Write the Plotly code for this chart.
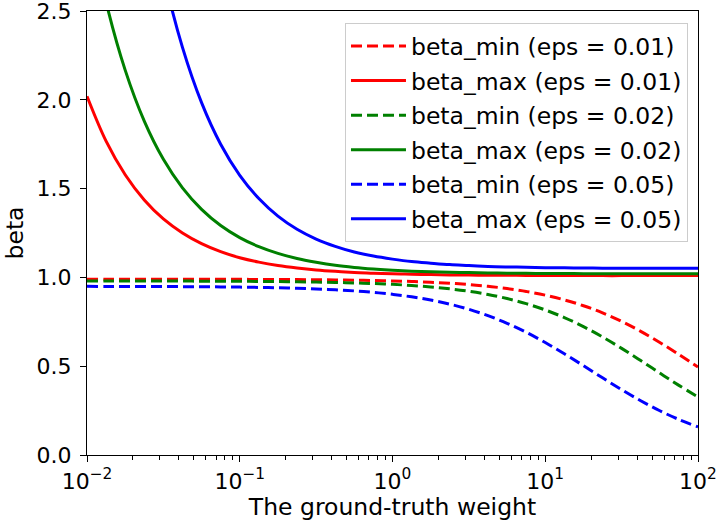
import plotly.graph_objects as go

# ground-truth weight sample positions (log-spaced)
w = [0.01, 0.013335, 0.017783, 0.023714, 0.031623, 0.04217, 0.056234, 0.074989,
     0.1, 0.13335, 0.17783, 0.23714, 0.31623, 0.4217, 0.56234, 0.74989,
     1.0, 1.3335, 1.7783, 2.3714, 3.1623, 4.217, 5.6234, 7.4989,
     10.0, 13.335, 17.783, 23.714, 31.623, 42.17, 56.234, 74.989, 100.0]

beta_min_001 = [0.9899, 0.9899, 0.9898, 0.9898, 0.9897, 0.9896, 0.9894, 0.9893,
                0.9890, 0.9887, 0.9882, 0.9877, 0.9869, 0.9858, 0.9845, 0.9826,
                0.9802, 0.9770, 0.9727, 0.9671, 0.9597, 0.9499, 0.9373, 0.9209,
                0.9000, 0.8735, 0.8405, 0.8002, 0.7522, 0.6964, 0.6337, 0.5658, 0.4950]
beta_max_001 = [2.020, 1.767, 1.578, 1.436, 1.329, 1.250, 1.190, 1.145,
                1.111, 1.086, 1.067, 1.053, 1.042, 1.034, 1.028, 1.024,
                1.020, 1.018, 1.016, 1.014, 1.013, 1.012, 1.012, 1.011,
                1.011, 1.011, 1.011, 1.010, 1.010, 1.010, 1.010, 1.010, 1.010]
beta_min_002 = [0.9798, 0.9797, 0.9797, 0.9795, 0.9794, 0.9792, 0.9789, 0.9785,
                0.9780, 0.9774, 0.9765, 0.9754, 0.9738, 0.9718, 0.9691, 0.9655,
                0.9608, 0.9545, 0.9464, 0.9356, 0.9217, 0.9038, 0.8809, 0.8522,
                0.8167, 0.7737, 0.7229, 0.6647, 0.6003, 0.5316, 0.4613, 0.3920, 0.3267]
beta_max_002 = [3.060, 2.550, 2.167, 1.880, 1.665, 1.504, 1.383, 1.292,
                1.224, 1.173, 1.135, 1.106, 1.085, 1.068, 1.056, 1.047,
                1.040, 1.035, 1.032, 1.029, 1.027, 1.025, 1.024, 1.023,
                1.022, 1.022, 1.021, 1.021, 1.021, 1.021, 1.020, 1.020, 1.020]
beta_min_005 = [0.9495, 0.9494, 0.9492, 0.9489, 0.9485, 0.9480, 0.9473, 0.9465,
                0.9453, 0.9437, 0.9416, 0.9389, 0.9352, 0.9304, 0.9240, 0.9157,
                0.9048, 0.8906, 0.8724, 0.8493, 0.8203, 0.7846, 0.7415, 0.6909,
                0.6333, 0.5700, 0.5029, 0.4346, 0.3681, 0.3056, 0.2492, 0.2000, 0.1583]
beta_max_005 = [6.300, 4.987, 4.002, 3.264, 2.710, 2.295, 1.984, 1.750,
                1.575, 1.444, 1.345, 1.271, 1.216, 1.175, 1.143, 1.120,
                1.103, 1.089, 1.080, 1.072, 1.067, 1.062, 1.059, 1.057,
                1.055, 1.054, 1.053, 1.052, 1.052, 1.051, 1.051, 1.051, 1.051]

series = [
    ("beta_min (eps = 0.01)", beta_min_001, "#ff0000", True),
    ("beta_max (eps = 0.01)", beta_max_001, "#ff0000", False),
    ("beta_min (eps = 0.02)", beta_min_002, "#008000", True),
    ("beta_max (eps = 0.02)", beta_max_002, "#008000", False),
    ("beta_min (eps = 0.05)", beta_min_005, "#0000ff", True),
    ("beta_max (eps = 0.05)", beta_max_005, "#0000ff", False),
]

x_tickvals = [0.01, 0.1, 1, 10, 100]
x_ticktext = ["10<sup>\u22122</sup>", "10<sup>\u22121</sup>", "10<sup>0</sup>",
              "10<sup>1</sup>", "10<sup>2</sup>"]
x_minor = [m * d for d in (0.01, 0.1, 1, 10) for m in range(2, 10)]
y_tickvals = [0.0, 0.5, 1.0, 1.5, 2.0, 2.5]

FONT = "DejaVu Sans"
fig = go.Figure()
for i, (name, vals, color, dashed) in enumerate(series):
    fig.add_trace(go.Scatter(
        x=w, y=vals, mode="lines", name=name, legendgroup=f"g{i}",
        line=dict(color=color, width=3, dash="11px,5px" if dashed else "solid",
                  shape="spline", smoothing=1.0),
    ))

axis_common = dict(showline=True, linecolor="black", linewidth=1.2, mirror=True,
                   ticks="outside", ticklen=6, tickwidth=1.2, tickcolor="black",
                   showgrid=False, zeroline=False, ticklabeloverflow="allow",
                   automargin=False,
                   tickfont=dict(family=FONT, size=22, color="black"))

fig.update_xaxes(type="log", range=[-2, 2], tickvals=x_tickvals, ticktext=x_ticktext,
                 title=dict(text="The ground-truth weight",
                            font=dict(family=FONT, size=23.5, color="black"), standoff=4),
                 minor=dict(tickvals=x_minor, ticks="outside", ticklen=3.5, tickwidth=1,
                            tickcolor="black", showgrid=False),
                 **axis_common)
fig.update_yaxes(range=[0, 2.5], tickvals=y_tickvals, tickformat=".1f",
                 ticklabelstandoff=4,
                 title=dict(text="beta", font=dict(family=FONT, size=23.5, color="black"),
                            standoff=6),
                 **axis_common)

fig.update_layout(
    width=717, height=521,
    margin=dict(l=87, r=19, t=11, b=66),
    paper_bgcolor="white", plot_bgcolor="white",
    font=dict(family=FONT, size=22, color="black"),
    showlegend=True,
    legend=dict(x=0.9836, y=0.9723, xanchor="right", yanchor="top",
                bgcolor="rgba(255,255,255,0.8)", bordercolor="#cccccc", borderwidth=1,
                font=dict(family=FONT, size=23.5, color="black"),
                traceorder="grouped", tracegroupgap=1, itemwidth=55),
)

fig.write_html("out.html", config={"displayModeBar": False},
               post_script="document.body.style.margin='0px';")
